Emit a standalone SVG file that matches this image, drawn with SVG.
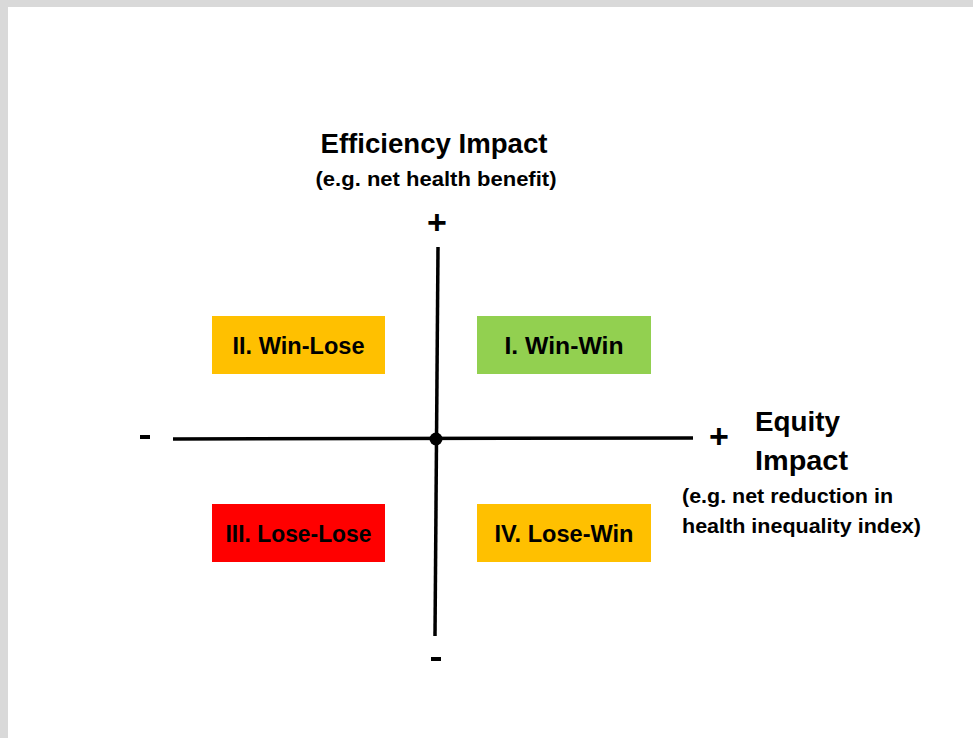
<svg xmlns="http://www.w3.org/2000/svg" width="973" height="738" viewBox="0 0 973 738">
<style>
text{font-family:"Liberation Sans",Arial,sans-serif;font-weight:bold;fill:#000}
.t{font-size:27px}
.s{font-size:19.5px}
.q{font-size:23px;text-anchor:middle}
.sign{font-size:34px;text-anchor:middle}
.ax{stroke:#000;stroke-width:3.5;fill:none}
</style>
<rect x="0" y="0" width="973" height="738" fill="#d9d9d9"/>
<rect x="8" y="7" width="965" height="731" fill="#ffffff"/>
<g id="title-y">
<text class="t" x="434" y="153" text-anchor="middle" textLength="227" lengthAdjust="spacingAndGlyphs">Efficiency Impact</text>
<text class="s" x="436" y="186" text-anchor="middle" textLength="241" lengthAdjust="spacingAndGlyphs">(e.g. net health benefit)</text>
</g>
<g id="title-x">
<text class="t" x="755" y="431" textLength="85" lengthAdjust="spacingAndGlyphs">Equity</text>
<text class="t" x="755" y="470" textLength="93" lengthAdjust="spacingAndGlyphs">Impact</text>
<text class="s" x="682" y="503" textLength="211" lengthAdjust="spacingAndGlyphs">(e.g. net reduction in</text>
<text class="s" x="682" y="533" textLength="239" lengthAdjust="spacingAndGlyphs">health inequality index)</text>
</g>
<g id="connectors">
<line class="ax" x1="438" y1="247" x2="435" y2="636"/>
<line class="ax" x1="173" y1="439" x2="693" y2="438"/>
<circle cx="436" cy="439" r="6.5" fill="#000"/>
</g>
<g id="signs">
<text class="sign" x="437" y="234">+</text>
<text class="sign" x="719" y="448">+</text>
<rect x="140" y="435" width="10" height="4" fill="#000"/>
<rect x="431" y="657" width="10" height="4" fill="#000"/>
</g>
<g id="q2">
<rect x="212" y="316" width="173" height="58" fill="#ffc000"/>
<text class="q" x="298.5" y="354" textLength="132" lengthAdjust="spacingAndGlyphs">II. Win-Lose</text>
</g>
<g id="q1">
<rect x="477" y="316" width="174" height="58" fill="#92d050"/>
<text class="q" x="564" y="354" textLength="119" lengthAdjust="spacingAndGlyphs">I. Win-Win</text>
</g>
<g id="q3">
<rect x="212" y="504" width="173" height="58" fill="#ff0000"/>
<text class="q" x="298.5" y="542" textLength="146" lengthAdjust="spacingAndGlyphs">III. Lose-Lose</text>
</g>
<g id="q4">
<rect x="477" y="504" width="174" height="58" fill="#ffc000"/>
<text class="q" x="564" y="542" textLength="139" lengthAdjust="spacingAndGlyphs">IV. Lose-Win</text>
</g>
</svg>
